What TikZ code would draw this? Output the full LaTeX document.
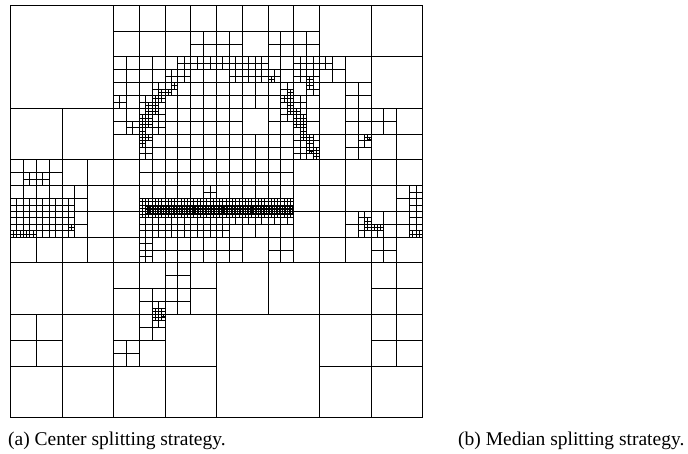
\documentclass[tikz,border=0pt]{standalone}
\usepackage{fontspec}
\setmainfont{Liberation Serif}

\newcommand{\splitcell}[3]{\draw (#1,#2+#3/2) -- ++(#3,0) (#1+#3/2,#2) -- ++(0,#3);}

\begin{document}
\begin{tikzpicture}[x=1pt, y=1pt,
        cell/.style={line width=1pt, draw=black},
        caption/.style={anchor=base west, inner sep=0pt, font=\fontsize{19.5}{22}\selectfont}]
    \useasboundingbox (0,0) rectangle (688,453);

    % quadtree, cells given by top-left corner and size
    \begin{scope}[shift={(10.5,447.5)}, x=6.4375pt, y=6.4375pt, yscale=-1, every path/.style={cell}]
        \draw (0,0) rectangle (64,64);
        \splitcell{0}{0}{64}
        \foreach \ux/\vy in {0/0, 32/0, 0/32, 32/32}
            {\splitcell{\ux}{\vy}{32}}
        \foreach \ux/\vy in {16/0, 0/16, 16/16, 32/0, 48/0, 32/16, 48/16, 0/32, 16/32, 0/48, 16/48, 32/32, 48/32, 48/48}
            {\splitcell{\ux}{\vy}{16}}
        \foreach \ux/\vy in {16/0, 24/0, 16/8, 24/8, 0/24, 8/24, 16/16, 24/16, 16/24, 24/24,
                32/0, 40/0, 32/8, 40/8, 48/8, 32/16, 40/16, 32/24, 40/24, 48/16, 56/16, 48/24, 56/24,
                0/32, 8/32, 16/32, 24/32, 16/40, 24/40, 0/48, 16/48, 32/32, 40/32, 48/32, 56/32, 56/40, 56/48}
            {\splitcell{\ux}{\vy}{8}}
        \foreach \ux/\vy in {28/4, 16/8, 20/8, 16/12, 20/12, 24/8, 28/8, 24/12, 28/12, 0/24, 4/24, 0/28, 4/28, 8/28,
                16/16, 20/16, 20/20, 24/16, 28/16, 24/20, 28/20, 20/24, 20/28, 24/24, 28/24, 24/28, 28/28,
                32/4, 40/4, 44/4, 32/8, 36/8, 32/12, 36/12, 40/8, 44/8, 40/12, 44/12, 48/8, 52/12,
                32/16, 32/20, 36/20, 40/16, 44/16, 40/20, 44/20, 32/24, 36/24, 32/28, 36/28, 40/24, 40/28,
                52/16, 52/20, 56/16, 60/28, 0/32, 4/32, 8/32, 20/32, 20/36, 24/32, 28/32, 24/36, 28/36,
                20/44, 24/40, 24/44, 20/48, 16/52, 32/32, 36/32, 32/36, 40/32, 40/36, 52/32, 56/32, 60/32, 56/36}
            {\splitcell{\ux}{\vy}{4}}
        \foreach \ux/\vy in {26/8, 28/8, 30/8, 24/10, 26/10, 22/12, 24/12, 16/14, 20/14, 22/14, 20/16, 22/16,
                18/18, 20/18, 22/18, 20/20, 20/22, 32/8, 34/8, 36/8, 38/8, 34/10, 36/10, 38/10, 40/10,
                44/8, 46/8, 44/10, 46/10, 48/8, 42/12, 46/12, 42/14, 44/14, 42/16, 44/16, 44/18, 44/20,
                46/20, 44/22, 46/22, 2/26, 4/26, 0/30, 2/30, 4/30, 6/30, 8/30, 0/32, 2/32, 4/32, 6/32,
                8/32, 0/34, 2/34, 4/34, 6/34, 8/34, 30/28, 20/36, 20/38, 54/20, 62/28, 62/30, 54/32,
                54/34, 56/34, 62/32, 62/34, 22/46, 22/48}
            {\splitcell{\ux}{\vy}{2}}
        \foreach \ux/\vy in {25/12, 24/13, 23/13, 23/14, 22/14, 22/15, 21/15, 22/16, 21/16, 21/17, 20/17,
                20/18, 21/18, 20/19, 20/20, 21/20, 20/21, 40/11, 46/11, 46/12, 43/13, 42/14, 43/14,
                43/15, 43/16, 44/16, 44/17, 45/17, 44/18, 45/18, 45/19, 45/20, 46/20, 46/21, 46/22,
                47/22, 47/23, 55/20, 55/33, 55/34, 56/34, 57/34, 62/35, 63/35, 0/35, 1/35, 2/35,
                3/35, 9/34, 22/47, 23/47, 22/48, 23/48}
            {\splitcell{\ux}{\vy}{1}}
        \foreach \ux/\vy in {46.5/22.5, 55.5/20.5, 23.5/48}
            {\splitcell{\ux}{\vy}{0.5}}

        % dense band in the middle
        \draw[step=1] (20,30) grid (44,34);
        \draw[step=1] (20,34) grid (34,36);
        \draw[step=0.5] (20,30) grid (44,33);
        \draw[step=0.25, line width=0.8pt] (21,31) grid (44,32.5);
    \end{scope}

    \node (capa) [caption] at (8,8) {(a) Center splitting strategy.};
    \node (capb) [caption] at (458,8) {(b) Median splitting strategy.};
\end{tikzpicture}
\end{document}
